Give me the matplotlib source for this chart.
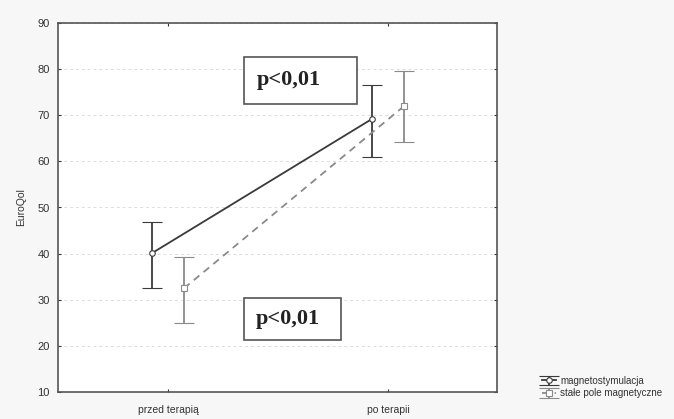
import matplotlib
matplotlib.use("Agg")
import matplotlib.pyplot as plt
from matplotlib.patches import Rectangle

categories = ["przed terapią", "po terapii"]
series_names = ["magnetostymulacja", "stałe pole magnetyczne"]
magneto_mean = [40.1, 69.2]
magneto_low = [32.6, 61.0]
magneto_high = [46.9, 76.6]
stale_mean = [32.5, 72.0]
stale_low = [24.9, 64.3]
stale_high = [39.3, 79.7]
y_ticks = [10, 20, 30, 40, 50, 60, 70, 80, 90]
annotations = ["p<0,01", "p<0,01"]

plt.rcParams['font.family'] = ['Liberation Sans', 'DejaVu Sans']

fig = plt.figure(figsize=(6.74, 4.19), dpi=100, facecolor='#f7f7f7')
ax = fig.add_axes([58/674, 1-392/419, (497-58)/674, (392-23)/419])
ax.set_facecolor('white')

x = list(range(len(categories)))
off = 0.073
xm = [v - off for v in x]
xs = [v + off for v in x]

c1 = '#3a3a3a'
c2 = '#8a8a8a'
e1 = ax.errorbar(xm, magneto_mean,
                 yerr=[[m - l for m, l in zip(magneto_mean, magneto_low)],
                       [h - m for m, h in zip(magneto_mean, magneto_high)]],
                 color=c1, lw=1.3, capsize=7, capthick=1.3, elinewidth=1.3,
                 marker='o', ms=4, mfc='white', mec=c1, mew=0.8, ls='-',
                 label=series_names[0], zorder=3)
e2 = ax.errorbar(xs, stale_mean,
                 yerr=[[m - l for m, l in zip(stale_mean, stale_low)],
                       [h - m for m, h in zip(stale_mean, stale_high)]],
                 color=c2, lw=1.3, capsize=7, capthick=1.3, elinewidth=1.3,
                 marker='s', ms=4, mfc='white', mec=c2, mew=0.8, ls=(0, (4, 3)),
                 label=series_names[1], zorder=3)

ax.set_xlim(-0.5, 1.495)
ax.set_ylim(10, 90)
ax.set_xticks(x)
ax.set_xticklabels(categories, fontsize=7.5, color='#333333')
ax.set_yticks(y_ticks)
ax.set_yticklabels([str(t) for t in y_ticks], fontsize=8, color='#333333')
ax.tick_params(direction='in', length=2.5, width=0.8, top=True, right=True,
               colors='#333333', pad=6)
ax.tick_params(axis='x', pad=9)
ax.set_ylabel("EuroQol", fontsize=7.5, color='#333333', labelpad=8)
for s in ax.spines.values():
    s.set_color('#555555')
    s.set_linewidth(1.2)
ax.yaxis.grid(True, color='#dddddd', ls=(0, (3, 3)), lw=0.7)
ax.set_axisbelow(True)

# annotation boxes
serif = ['Liberation Serif', 'DejaVu Serif']
ax.add_patch(Rectangle((0.345, 72.4), 0.514, 10.2, fc='white', ec='#555555',
                       lw=1.2, zorder=4))
ax.text(0.405, 77.6, annotations[0], fontsize=16, fontweight='bold',
        family=serif, ha='left', va='center', color='#222222', zorder=5)
ax.add_patch(Rectangle((0.345, 21.3), 0.441, 9.1, fc='white', ec='#555555',
                       lw=1.2, zorder=4))
ax.text(0.40, 25.9, annotations[1], fontsize=16, fontweight='bold',
        family=serif, ha='left', va='center', color='#222222', zorder=5)

leg = fig.legend(handles=[e1, e2], labels=series_names, loc='lower left',
                 bbox_to_anchor=(535/674, 14/419), frameon=False, fontsize=7,
                 handlelength=1.5, handletextpad=0.4, labelspacing=0.25,
                 borderpad=0.2)
for t in leg.get_texts():
    t.set_color('#333333')

fig.savefig("out.png", dpi=100, facecolor=fig.get_facecolor())
